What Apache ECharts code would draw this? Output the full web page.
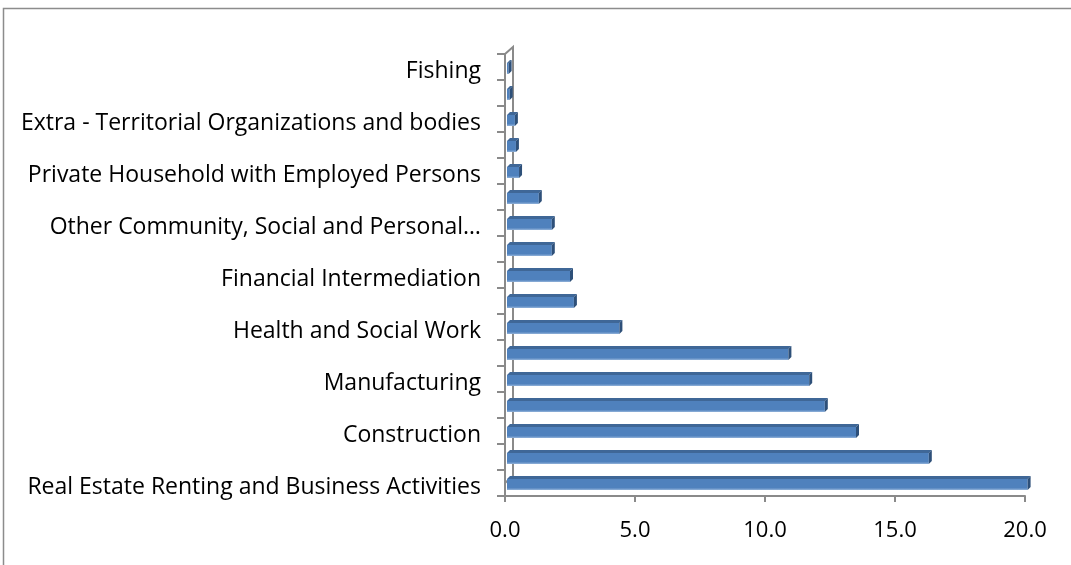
<!DOCTYPE html>
<html>
<head>
<meta charset="utf-8">
<script src="https://cdn.jsdelivr.net/npm/echarts@6/dist/echarts.min.js"></script>
<style>
html,body{margin:0;padding:0;background:#fff;}
#chart{width:1071px;height:565px;}
</style>
</head>
<body>
<div id="chart"></div>
<script>
// Categories, bottom to top
const categories = [
  "Real Estate Renting and Business Activities",
  "Wholesale and Retail Trade",
  "Construction",
  "Public Administration and Defence",
  "Manufacturing",
  "Education",
  "Health and Social Work",
  "Transport, Storage and Communications",
  "Financial Intermediation",
  "Hotels and Restaurants",
  "Other Community, Social and Personal Service Activities",
  "Electricity, Gas and Water Supply",
  "Private Household with Employed Persons",
  "Mining and Quarrying",
  "Extra - Territorial Organizations and bodies",
  "Agriculture, Hunting and Forestry",
  "Fishing"
];
const values = [20.1, 16.3, 13.5, 12.3, 11.7, 10.9, 4.4, 2.65, 2.5, 1.8, 1.8, 1.3, 0.54, 0.42, 0.38, 0.18, 0.14];
const xTicks = { min: 0, max: 20, interval: 5 };

(function () {
const chart = echarts.init(document.getElementById('chart'));
const FONT = 'Open Sans';

function renderItem(params, api) {
  const v = api.value(0);
  const idx = api.value(1);
  const p0 = api.coord([0, idx]);
  const p1 = api.coord([v, idx]);
  const cy = p0[1];
  const x0 = p0[0] + 2;
  const x1 = Math.max(p1[0], x0 + 1);
  const yT = cy - 4, yB = cy + 7, d = 3;
  return {
    type: 'group',
    children: [
      { type: 'polygon', shape: { points: [[x0, yT], [x1, yT], [x1 + d, yT - d], [x0 + d, yT - d]] },
        style: { fill: '#3F6797' } },
      { type: 'rect', shape: { x: x0, y: yT, width: x1 - x0, height: yB - yT },
        style: { fill: new echarts.graphic.LinearGradient(0, 0, 0, 1, [
          { offset: 0, color: '#4F81BD' }, { offset: 0.8, color: '#4F81BD' }, { offset: 1, color: '#93B3DA' }]) } },
      { type: 'polygon', shape: { points: [[x1, yT], [x1 + d, yT - d], [x1 + d, yB - d], [x1, yB]] },
        style: { fill: '#2E5079' } }
    ]
  };
}

chart.setOption({
  animation: false,
  backgroundColor: '#fff',
  grid: { left: 505, right: 46, top: 54, bottom: 69, containLabel: false },
  xAxis: {
    type: 'value', min: xTicks.min, max: xTicks.max, interval: xTicks.interval,
    axisLine: { show: true, lineStyle: { color: '#8A8A8A', width: 2 } },
    axisTick: { show: true, length: 6, lineStyle: { color: '#8A8A8A', width: 2 } },
    splitLine: { show: false },
    axisLabel: { margin: 24, fontFamily: FONT, fontSize: 22, color: '#000',
      formatter: v => v.toFixed(1) }
  },
  yAxis: {
    type: 'category', data: categories,
    axisLine: { show: true, lineStyle: { color: '#8A8A8A', width: 2 } },
    axisTick: { show: true, length: 8, interval: 0, lineStyle: { color: '#8A8A8A', width: 2 } },
    axisLabel: { interval: 1, margin: 24, color: '#000',
      formatter: name => '{l|' + (name.length > 44 ? name.slice(0, 36) + '…' : name) + '}',
      rich: { l: { fontFamily: FONT, fontSize: 23, color: '#000', padding: [8, 0, 0, 0] } } }
  },
  series: [{
    type: 'custom',
    renderItem: renderItem,
    encode: { x: 0, y: 1 },
    data: values.map((v, i) => [v, i]),
    clip: false
  }]
});

// 3D wall decorations derived from the axes
const pBL = chart.convertToPixel({ gridIndex: 0 }, [0, -0.5]);
const gTop = 54, gBottom = pBL[1], gLeft = pBL[0];
const dx = 8, dy = 7;
chart.setOption({
  graphic: [
    { type: 'rect', shape: { x: 3.5, y: 8.5, width: 1200, height: 700 },
      style: { fill: 'none', stroke: '#8C8C8C', lineWidth: 1.5 }, z: -1 },
    { type: 'polyline', shape: { points: [[gLeft, gTop], [gLeft + dx, gTop - dy], [gLeft + dx, gBottom - dy], [gLeft, gBottom]] },
      style: { fill: 'none', stroke: '#8A8A8A', lineWidth: 2 }, z: -1 }
  ]
});
})();
</script>
</body>
</html>
